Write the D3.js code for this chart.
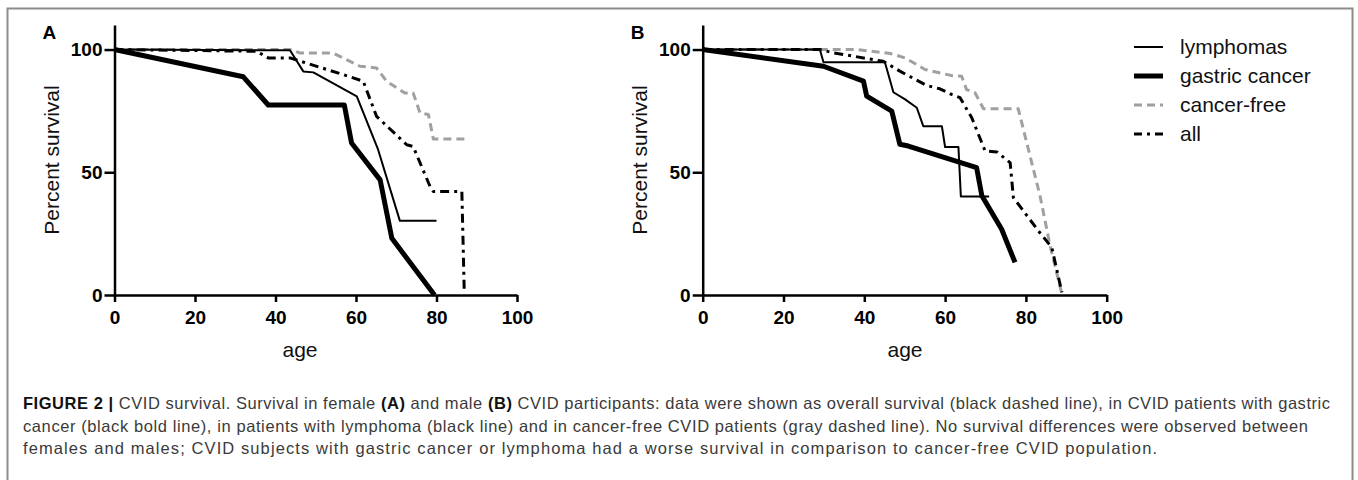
<!DOCTYPE html>
<html>
<head>
<meta charset="utf-8">
<script src="https://cdn.jsdelivr.net/npm/d3@7/dist/d3.min.js"></script>
<style>
body { margin: 0; background: #fff; }
svg { display: block; font-family: "Liberation Sans", Arial, sans-serif; }
</style>
</head>
<body>
<svg id="fig" width="1358" height="480"></svg>
<script>
var ageTicks = [0, 20, 40, 60, 80, 100];
var survivalTicks = [0, 50, 100];
var seriesNames = ["lymphomas", "gastric cancer", "cancer-free", "all"];

// panel A (female): [age, percent survival]
var lymphomaA = [[0, 100], [43.6, 99.7], [46.9, 91.1], [49.4, 90.7], [60.2, 80.9], [65.5, 59.2], [70.9, 30.2], [80, 30.2]];
var gastricA = [[0, 100], [32, 88.9], [38.2, 77.4], [57.1, 77.4], [58.9, 61.9], [66, 46.9], [68.9, 23.1], [79.5, 0]];
var cancerFreeA = [[0, 100], [43.6, 100], [46.1, 98.6], [54.3, 98.6], [61, 93.2], [65.1, 92.5], [67.6, 87.1], [72.1, 82.3],
    [74.2, 82.3], [75.9, 74.2], [78, 73.5], [79.2, 63.6], [87.1, 63.6]];
var allA = [[0, 100], [35.3, 99.3], [38.2, 96.6], [43.6, 96.6], [56.8, 89.8], [61.8, 87.1], [65.1, 72.8], [72.6, 61.2],
    [74.2, 60.5], [78.4, 44.2], [79.2, 42.2], [86.3, 42.2], [86.9, 1]];

// panel B (male)
var lymphomaB = [[0, 100], [29, 100], [29.9, 94.8], [45.1, 94.8], [47.2, 82.6], [50.1, 79.7], [53, 76.3], [54.6, 68.8],
    [59.2, 68.8], [60, 60.3], [63.3, 60.3], [63.9, 40.1], [70.9, 40.1]];
var gastricB = [[0, 100], [29.9, 93.2], [39.8, 87.1], [40.6, 81], [46.8, 74.9], [48.8, 61.4], [50.9, 60.7], [67.8, 51.9],
    [69.1, 40.4], [74, 26.8], [77.3, 13.3]];
var cancerFreeB = [[0, 100], [38.1, 100], [46.4, 98.4], [50.1, 96.6], [55, 91.9], [61.6, 89.4], [64.1, 89.1], [65.3, 83.7],
    [67.4, 82.4], [69.5, 75.9], [78.1, 75.9], [80.2, 62.1], [83.5, 40.4], [86, 20], [88.9, 0.4]];
var allB = [[0, 100], [29, 100], [32.3, 98.7], [44.7, 95.2], [48.8, 91.2], [55.4, 85.4], [58.7, 84], [61.6, 81.7],
    [63.7, 80.4], [66.6, 72.2], [69.9, 58.7], [72.8, 58.3], [76.1, 53.9], [76.9, 39.7], [83.1, 26.1], [86.4, 19.4], [88.9, 1.1]];

var captionLines = [
    [["FIGURE 2 |", true], [" CVID survival. Survival in female ", false], ["(A)", true], [" and male ", false], ["(B)", true],
        [" CVID participants: data were shown as overall survival (black dashed line), in CVID patients with gastric", false]],
    [["cancer (black bold line), in patients with lymphoma (black line) and in cancer-free CVID patients (gray dashed line). No survival differences were observed between", false]],
    [["females and males; CVID subjects with gastric cancer or lymphoma had a worse survival in comparison to cancer-free CVID population.", false]]
];

// line look for each series
var lineStyle = {
    "lymphomas": {stroke: "#000", width: 2, dash: null},
    "gastric cancer": {stroke: "#000", width: 5, dash: null},
    "cancer-free": {stroke: "#a0a0a0", width: 3, dash: "8,5"},
    "all": {stroke: "#000", width: 3, dash: "9,5,3,5"}
};

var svg = d3.select("#fig");

// figure frame
svg.append("rect")
    .attr("x", 7.5).attr("y", 8.5)
    .attr("width", 1345).attr("height", 500)
    .attr("fill", "none")
    .attr("stroke", "#8c8c8c")
    .attr("stroke-width", 2);

var y = d3.scaleLinear().domain([0, 110]).range([295, 25]);

function drawPanel(x0, x1, letter, series, ageX) {
    var x = d3.scaleLinear().domain([0, 100]).range([x0, x1]);

    var line = d3.line()
        .x(function (d) { return x(d[0]); })
        .y(function (d) { return y(d[1]); });

    // gray first so the black ones sit on top
    ["cancer-free", "all", "lymphomas", "gastric cancer"].forEach(function (name) {
        var s = lineStyle[name];
        svg.append("path")
            .datum(series[name])
            .attr("d", line)
            .attr("fill", "none")
            .attr("stroke", s.stroke)
            .attr("stroke-width", s.width)
            .attr("stroke-dasharray", s.dash)
            .attr("stroke-linejoin", "round");
    });

    var xAxis = svg.append("g")
        .attr("transform", "translate(0," + y(0) + ")")
        .call(d3.axisBottom(x).tickValues(ageTicks).tickSize(7).tickPadding(9).tickSizeOuter(0));

    var yAxis = svg.append("g")
        .attr("transform", "translate(" + x0 + ",0)")
        .call(d3.axisLeft(y).tickValues(survivalTicks).tickSize(10).tickPadding(2).tickSizeOuter(0));

    [xAxis, yAxis].forEach(function (ax) {
        ax.select(".domain").attr("stroke", "#000").attr("stroke-width", 2.5);
        ax.selectAll(".tick line").attr("stroke", "#000").attr("stroke-width", 2.5);
        ax.selectAll(".tick text")
            .attr("fill", "#000")
            .style("font-size", "19px")
            .style("font-weight", "bold")
            .style("font-family", "'Liberation Sans', Arial, sans-serif");
    });

    svg.append("text")
        .attr("x", x0 - 72).attr("y", 39)
        .style("font-size", "19px")
        .style("font-weight", "bold")
        .text(letter);

    svg.append("text")
        .attr("transform", "translate(" + (x0 - 63) + "," + (y(0) + y(110)) / 2 + ") rotate(-90)")
        .attr("text-anchor", "middle")
        .attr("dy", "0.35em")
        .style("font-size", "21px")
        .attr("fill", "#111")
        .text("Percent survival");

    svg.append("text")
        .attr("x", ageX).attr("y", 357)
        .attr("text-anchor", "middle")
        .style("font-size", "21px")
        .attr("fill", "#111")
        .text("age");
}

drawPanel(114.5, 517, "A", {
    "lymphomas": lymphomaA, "gastric cancer": gastricA, "cancer-free": cancerFreeA, "all": allA
}, 300);

drawPanel(702.7, 1106.7, "B", {
    "lymphomas": lymphomaB, "gastric cancer": gastricB, "cancer-free": cancerFreeB, "all": allB
}, 905);

// legend
var legend = svg.append("g")
    .selectAll("g")
    .data(seriesNames)
    .enter().append("g")
    .attr("transform", function (d, i) { return "translate(1134," + (47 + i * 29) + ")"; });

legend.append("line")
    .attr("x1", 0).attr("x2", 29)
    .attr("stroke", function (d) { return lineStyle[d].stroke; })
    .attr("stroke-width", function (d) { return lineStyle[d].width; })
    .attr("stroke-dasharray", function (d) { return d == "all" ? "8,5,3,5" : lineStyle[d].dash; });

legend.append("text")
    .attr("x", 46)
    .attr("dy", "0.33em")
    .style("font-size", "21px")
    .attr("fill", "#111")
    .text(function (d) { return d; });

// caption, each line stretched to the width it has in the figure
var captionWidths = [1307, 1285, 1134];
var caption = svg.append("g").style("font-size", "16.5px");

captionLines.forEach(function (parts, i) {
    var t = caption.append("text")
        .attr("x", 23)
        .attr("y", 409 + i * 22.5)
        .attr("fill", "#3a3a3a");
    parts.forEach(function (p) {
        t.append("tspan")
            .style("font-weight", p[1] ? "bold" : "normal")
            .attr("fill", p[1] ? "#111" : null)
            .text(p[0]);
    });
    t.attr("textLength", captionWidths[i]).attr("lengthAdjust", "spacing");
});
</script>
</body>
</html>
